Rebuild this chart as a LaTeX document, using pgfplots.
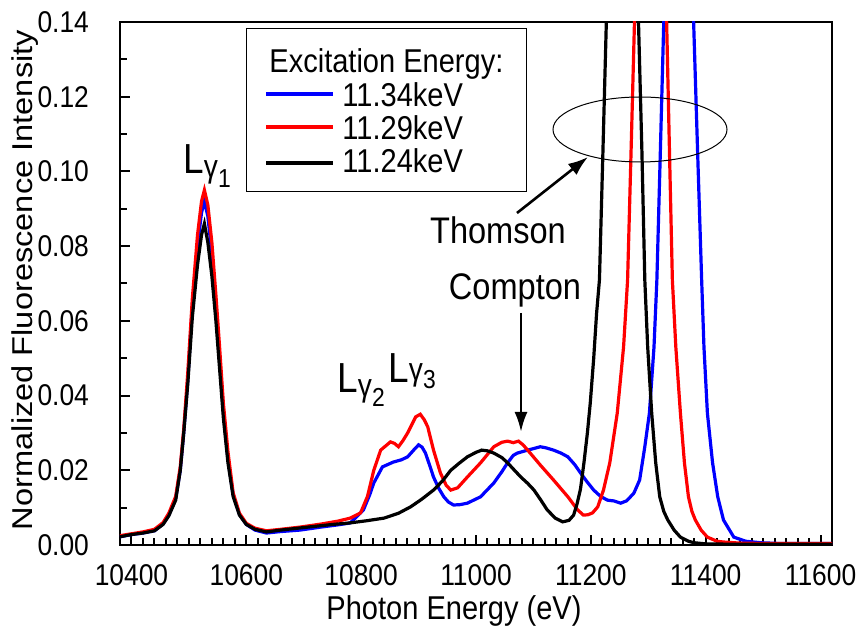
\documentclass[border=0pt]{standalone}
\usepackage{fontspec}
\setmainfont{Liberation Sans}[FakeStretch=0.88]
\newfontfamily\plainfont{Liberation Sans}
\usepackage{pgfplots}
\pgfplotsset{compat=1.18}
\usetikzlibrary{arrows.meta}

% spectra: energy (eV), normalized intensity
\pgfplotstableread{
x y
10380 0.0022
10400 0.0028
10420 0.0032
10440 0.0038
10455 0.0056
10465 0.0080
10477 0.0125
10485 0.020
10491 0.030
10498 0.044
10506 0.064
10515 0.080
10522 0.089
10527 0.092
10533 0.088
10540 0.078
10547 0.064
10553 0.051
10560 0.036
10568 0.023
10577 0.0135
10588 0.0082
10600 0.0055
10615 0.0040
10635 0.0032
10660 0.0036
10694 0.0040
10730 0.0048
10760 0.0054
10781 0.0059
10804 0.0094
10815 0.0135
10822 0.0166
10837 0.0209
10856 0.0222
10870 0.0228
10881 0.0236
10892 0.0255
10900 0.0268
10906 0.0262
10912 0.0246
10920 0.0210
10926 0.0182
10935 0.0152
10944 0.0129
10952 0.0115
10961 0.0107
10972 0.0108
10985 0.0112
11008 0.0129
11031 0.0166
11045 0.0196
11055 0.0220
11065 0.0240
11072 0.0246
11090 0.0254
11100 0.0258
11112 0.0263
11122 0.0260
11135 0.0254
11148 0.0246
11160 0.0236
11172 0.0215
11182 0.0193
11193 0.0170
11205 0.0147
11217 0.0130
11229 0.0120
11240 0.0118
11252 0.0112
11262 0.0118
11269 0.0129
11275 0.0139
11285 0.0174
11294 0.0263
11302 0.0353
11310 0.053
11315 0.0709
11321 0.105
11327 0.140
11330 0.160
11353 1.0
11375 0.160
11379 0.140
11386 0.105
11393 0.0709
11397 0.053
11403 0.0353
11412 0.022
11421 0.0129
11431 0.0067
11449 0.0021
11470 0.0010
11496 0.0006
11530 0.0004
11620 0.0004
}\blueE

\pgfplotstableread{
x y
10380 0.0025
10400 0.0030
10420 0.0035
10440 0.0042
10455 0.0060
10465 0.0085
10477 0.013
10485 0.021
10491 0.031
10498 0.046
10506 0.066
10515 0.083
10522 0.092
10527 0.095
10533 0.091
10540 0.081
10547 0.067
10553 0.054
10560 0.038
10568 0.025
10577 0.014
10588 0.0085
10600 0.0058
10615 0.0045
10635 0.0038
10660 0.0042
10694 0.0048
10730 0.0056
10760 0.0064
10781 0.0072
10799 0.0086
10811 0.013
10822 0.020
10834 0.0254
10851 0.0276
10858 0.0272
10865 0.0263
10873 0.0280
10881 0.030
10895 0.0343
10903 0.0350
10910 0.0335
10916 0.0316
10926 0.0254
10938 0.0193
10948 0.0160
10956 0.0147
10968 0.0153
10985 0.0182
11008 0.022
11031 0.0263
11045 0.0275
11055 0.0278
11065 0.0274
11074 0.0278
11082 0.0268
11090 0.0254
11112 0.0214
11135 0.0174
11160 0.0129
11177 0.0094
11187 0.0080
11195 0.0081
11203 0.0086
11212 0.0102
11222 0.0147
11233 0.022
11246 0.0353
11257 0.053
11264 0.0709
11270 0.105
11276 0.140
11279 0.160
11304 1.0
11329 0.160
11332 0.140
11337 0.105
11342 0.0709
11348 0.053
11356 0.0353
11363 0.022
11370 0.0129
11376 0.0090
11382 0.0067
11392 0.0040
11403 0.0021
11420 0.0010
11431 0.0008
11460 0.0005
11500 0.0004
11620 0.0004
}\redE

\pgfplotstableread{
x y
10380 0.0022
10400 0.0028
10420 0.0032
10440 0.0038
10455 0.0055
10465 0.0078
10477 0.012
10485 0.020
10491 0.030
10498 0.043
10506 0.061
10515 0.075
10522 0.083
10527 0.086
10533 0.081
10540 0.072
10547 0.060
10553 0.048
10560 0.034
10568 0.022
10577 0.013
10588 0.008
10600 0.0055
10615 0.0042
10635 0.0035
10660 0.0040
10690 0.0045
10720 0.0050
10750 0.0055
10780 0.0059
10810 0.0065
10840 0.0072
10865 0.0085
10886 0.0102
10905 0.0122
10926 0.0147
10942 0.0172
10956 0.0200
10970 0.0218
10985 0.0236
11000 0.0248
11010 0.0254
11020 0.0252
11031 0.0246
11045 0.0234
11055 0.0220
11067 0.0200
11078 0.0182
11090 0.0165
11101 0.0147
11113 0.0120
11124 0.0094
11138 0.0072
11151 0.0062
11162 0.0066
11170 0.0080
11176 0.0110
11182 0.0150
11188 0.0220
11194 0.0300
11199 0.0380
11205 0.0500
11210 0.0620
11215 0.0710
11221 0.105
11227 0.140
11230 0.160
11255 1.0
11280 0.160
11283 0.140
11289 0.105
11294 0.0709
11299 0.053
11306 0.0353
11313 0.022
11320 0.0129
11327 0.0090
11334 0.0067
11345 0.0040
11356 0.0021
11370 0.0010
11380 0.0006
11400 0.0003
11450 0.0002
11620 0.0002
}\blackE

\begin{document}
\begin{tikzpicture}
\useasboundingbox (-60pt,-45.5pt) rectangle (371.5pt,272.5pt);
\begin{axis}[
    at={(0,0)}, anchor=south west,
    scale only axis,
    width=356pt, height=261.5pt,
    xmin=10380, xmax=11620,
    ymin=0, ymax=0.14,
    xtick={10400,10600,...,11600},
    ytick={0,0.02,...,0.14},
    minor x tick num=9,
    minor y tick num=1,
    tick pos=left,
    tick align=inside,
    major tick length=5pt,
    minor tick length=3.5pt,
    every tick/.style={black, line width=1pt},
    axis line style={line width=1pt},
    scaled x ticks=false,
    scaled y ticks=false,
    /pgf/number format/assume math mode=true,
    xticklabel style={/pgf/number format/.cd, fixed, 1000 sep={}, /tikz/.cd,
        font=\fontsize{15}{18}\selectfont, yshift=-6pt},
    yticklabel style={/pgf/number format/.cd, fixed, fixed zerofill, precision=2, /tikz/.cd,
        font=\fontsize{15}{18}\selectfont, xshift=-12pt},
]
\addplot[blue, line width=1.6pt] table {\blueE};
\addplot[red, line width=1.6pt] table {\redE};
\addplot[black, line width=1.6pt] table {\blackE};
\end{axis}

% axis titles
\node[anchor=base, font=\fontsize{16.5}{20}\selectfont] at (167pt,-37.5pt) {Photon Energy (eV)};
\node[rotate=90, font=\plainfont\fontsize{16.3}{20}\selectfont] at (-47.5pt,132.5pt)
    {\scalebox{1}[0.88]{Normalized Fluorescence Intensity}};

% legend
\draw[line width=0.5pt] (63pt,176.5pt) rectangle (203pt,258pt);
\node[anchor=base west, inner sep=0pt, font=\fontsize{16.5}{20}\selectfont] at (74.5pt,236pt) {Excitation Energy:};
\draw[blue, line width=1.6pt] (73pt,225.5pt) -- (106.5pt,225.5pt);
\draw[red, line width=1.6pt] (73pt,209pt) -- (106.5pt,209pt);
\draw[black, line width=1.6pt] (73pt,191pt) -- (106.5pt,191pt);
\node[anchor=base west, inner sep=0pt, font=\fontsize{16.5}{20}\selectfont] at (111pt,219pt) {11.34keV};
\node[anchor=base west, inner sep=0pt, font=\fontsize{16.5}{20}\selectfont] at (111pt,202.5pt) {11.29keV};
\node[anchor=base west, inner sep=0pt, font=\fontsize{16.5}{20}\selectfont] at (111pt,186pt) {11.24keV};

% peak labels
\node[anchor=base west, inner sep=0pt, font=\fontsize{21}{24}\selectfont] at (31.5pt,185.5pt)
    {L\raisebox{-2pt}{\fontsize{16}{18}\selectfont γ}\raisebox{-7pt}{\fontsize{13}{14}\selectfont 1}};
\node[anchor=base west, inner sep=0pt, font=\fontsize{21}{24}\selectfont] at (108.5pt,76pt)
    {L\raisebox{-2pt}{\fontsize{16}{18}\selectfont γ}\raisebox{-7pt}{\fontsize{13}{14}\selectfont 2}};
\node[anchor=base west, inner sep=0pt, font=\fontsize{21}{24}\selectfont] at (134pt,81pt)
    {L\raisebox{1pt}{\fontsize{16}{18}\selectfont γ}\raisebox{-3pt}{\fontsize{13}{14}\selectfont 3}};

% Thomson / Compton annotations
\draw[line width=0.5pt] (260pt,207.75pt) ellipse [x radius=43.5pt, y radius=16.25pt];
\draw[line width=1.3pt, -{Latex[length=10pt,width=7pt]}] (198.5pt,166pt) -- (234pt,194pt);
\node[font=\fontsize{18.5}{20}\selectfont] at (189pt,157.5pt) {Thomson};
\node[font=\fontsize{18.5}{20}\selectfont] at (197.5pt,127.5pt) {Compton};
\draw[line width=1.3pt, -{Latex[length=10pt,width=6.5pt]}] (200.5pt,116pt) -- (200.5pt,56.5pt);
\end{tikzpicture}
\end{document}
